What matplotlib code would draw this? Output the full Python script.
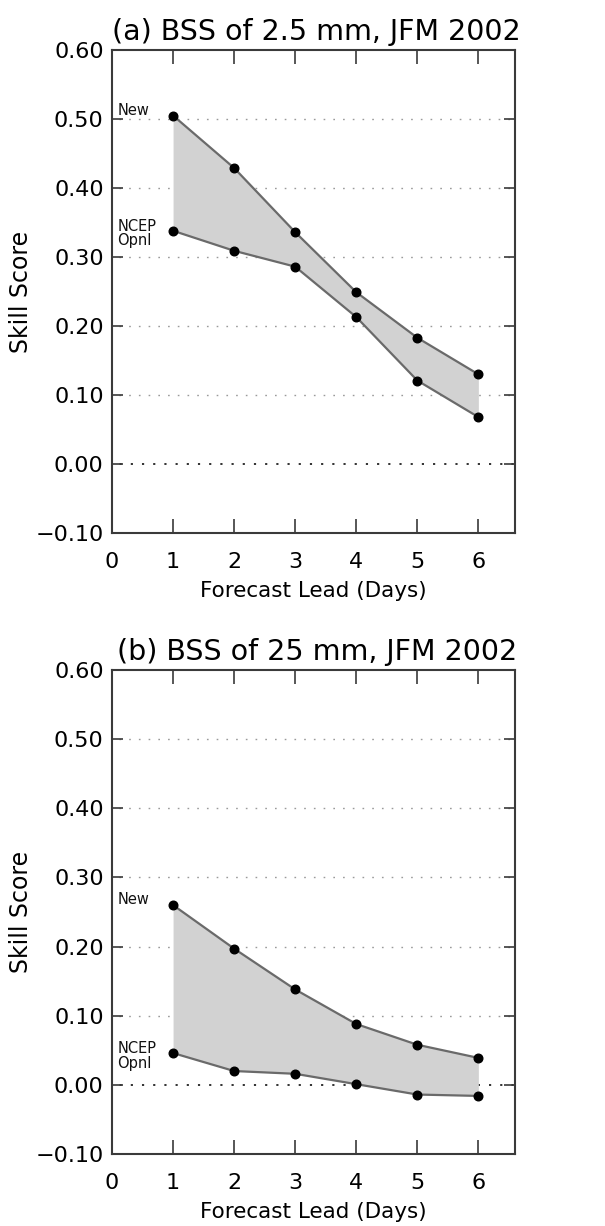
import matplotlib
matplotlib.use("Agg")
import matplotlib.pyplot as plt

# Forecast lead (days)
leads = [1, 2, 3, 4, 5, 6]

# Panel (a): BSS of 2.5 mm threshold
new_a = [0.505, 0.429, 0.336, 0.249, 0.183, 0.130]
ncep_a = [0.338, 0.309, 0.286, 0.213, 0.121, 0.068]

# Panel (b): BSS of 25 mm threshold
new_b = [0.260, 0.197, 0.138, 0.088, 0.058, 0.039]
ncep_b = [0.046, 0.020, 0.016, 0.001, -0.014, -0.016]

titles = ["(a) BSS of 2.5 mm, JFM 2002", "(b) BSS of 25 mm, JFM 2002"]
yticks = [-0.10, 0.00, 0.10, 0.20, 0.30, 0.40, 0.50, 0.60]
xticks = [0, 1, 2, 3, 4, 5, 6]
grid_levels = [0.10, 0.20, 0.30, 0.40, 0.50]

plt.rcParams["font.family"] = ["DejaVu Sans"]

W, H = 605, 1226
fig = plt.figure(figsize=(W / 100, H / 100), dpi=100)

axes_px = [(50, 533), (670, 1154)]  # (top, bottom) in pixels
left_px, right_px = 112, 515

panels = [(new_a, ncep_a), (new_b, ncep_b)]
spine_col = "#3a3a3a"

for (top, bot), (new, ncep), title in zip(axes_px, panels, titles):
    ax = fig.add_axes([left_px / W, 1 - bot / H, (right_px - left_px) / W, (bot - top) / H])
    ax.set_xlim(0, 6.6)
    ax.set_ylim(-0.10, 0.60)

    for g in grid_levels:
        ax.axhline(g, color="#9a9a9a", lw=1.0, ls=(2, (1.2, 5.8)), zorder=1)
    ax.axhline(0.0, color="#222222", lw=1.3, ls=(2, (1.2, 5.0)), zorder=1)

    ax.fill_between(leads, ncep, new, color="#d2d2d2", lw=0, zorder=2)
    ax.plot(leads, new, color="#6a6a6a", lw=1.6, zorder=3)
    ax.plot(leads, ncep, color="#6a6a6a", lw=1.6, zorder=3)
    ax.plot(leads, new, "o", color="black", ms=6.2, zorder=4)
    ax.plot(leads, ncep, "o", color="black", ms=6.2, zorder=4)

    ax.text(0.09, new[0] - 0.003, "New", fontsize=10.5, ha="left", va="bottom",
            fontweight="medium", color="#111111")
    ax.text(0.09, ncep[0] - 0.004, "NCEP\nOpnl", fontsize=10.5, ha="left", va="center",
            fontweight="medium", color="#111111", linespacing=0.95)

    ax.set_xticks(xticks)
    ax.set_xticklabels([str(t) for t in xticks])
    ax.set_yticks(yticks)
    ax.set_yticklabels(["\u22120.10"] + [f"{v:.2f}" for v in yticks[1:]])
    ax.tick_params(axis="x", direction="in", length=10, width=1.2, color=spine_col,
                   labelsize=16, top=True, bottom=True, pad=14)
    ax.tick_params(axis="y", direction="in", length=8, width=1.2, color=spine_col,
                   labelsize=16, left=True, right=True, pad=6)
    # no tick mark at lead 0
    ax.xaxis.get_major_ticks()[0].tick1line.set_visible(False)
    ax.xaxis.get_major_ticks()[0].tick2line.set_visible(False)

    for s in ax.spines.values():
        s.set_color(spine_col)
        s.set_linewidth(1.5)

    ax.set_xlabel("Forecast Lead (Days)", fontsize=15.5, labelpad=6)
    ax.set_ylabel("Skill Score", fontsize=17, labelpad=2)
    ax.set_title(title, fontsize=20.5, pad=7, x=0.508)

fig.savefig("out.png", dpi=100)
